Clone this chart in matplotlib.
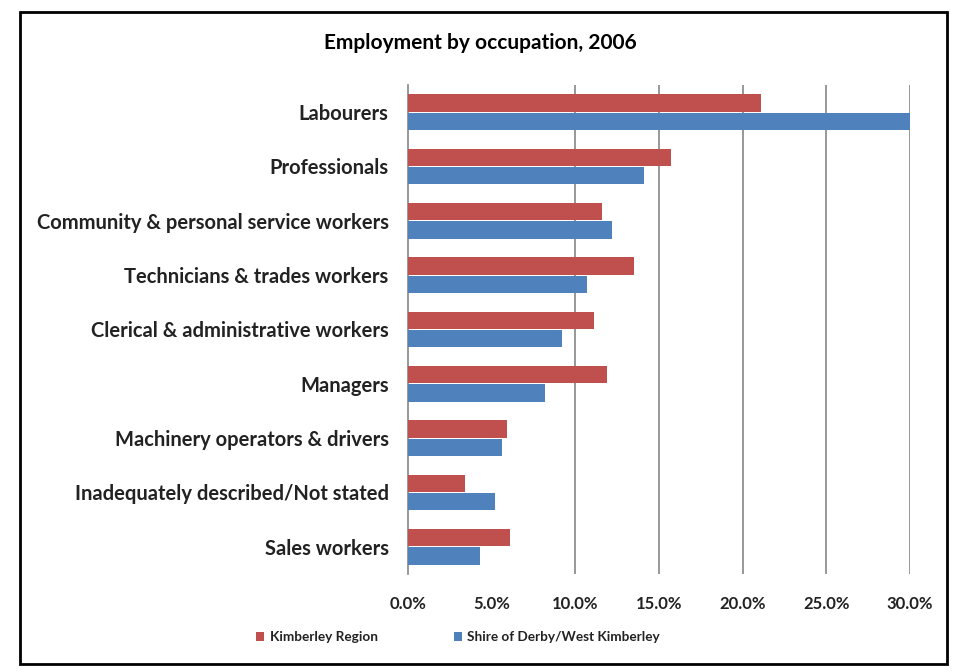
import matplotlib.pyplot as plt
import numpy as np

occupations = [
    "Labourers",
    "Professionals",
    "Community & personal service workers",
    "Technicians & trades workers",
    "Clerical & administrative workers",
    "Managers",
    "Machinery operators & drivers",
    "Inadequately described/Not stated",
    "Sales workers",
]
kimberley = [21.1, 15.7, 11.6, 13.5, 11.1, 11.9, 5.9, 3.4, 6.1]
derby = [30.0, 14.1, 12.2, 10.7, 9.2, 8.2, 5.6, 5.2, 4.3]
xticks = [0, 5, 10, 15, 20, 25, 30]

plt.rcParams['font.family'] = ['Lato', 'DejaVu Sans']

fig = plt.figure(figsize=(9.64, 6.72), dpi=100)
ax = fig.add_axes([408 / 964, 1 - 574 / 672, (910 - 408) / 964, (574 - 85) / 672])

y = np.arange(len(occupations))
h = 0.32
ax.barh(y - 0.17, kimberley, height=h, color="#C0504D", label="Kimberley Region", zorder=3)
ax.barh(y + 0.17, derby, height=h, color="#4F81BD", label="Shire of Derby/West Kimberley", zorder=3)

ax.set_ylim(len(occupations) - 0.5, -0.5)
ax.set_xlim(0, 30)
ax.set_yticks(y)
ax.set_yticklabels(occupations, fontsize=14.5, fontweight="bold", color="#222222")
ax.set_xticks(xticks)
ax.set_xticklabels(["%.1f%%" % v for v in xticks], fontsize=12, fontweight="bold",
                   color="#222222")
ax.tick_params(length=0)
ax.tick_params(axis='y', pad=14)
ax.tick_params(axis='x', pad=16)

# vertical gridlines
for v in xticks[2:]:
    ax.axvline(v, color="#868686", lw=1.2, zorder=1)

for s in ["top", "right", "bottom"]:
    ax.spines[s].set_visible(False)
ax.spines["left"].set_color("#868686")
ax.spines["left"].set_linewidth(1.2)

fig.text(0.498, 1 - 43 / 672, "Employment by occupation, 2006", ha="center", va="center",
         fontsize=15, fontweight="bold")

leg = fig.legend(loc="center", bbox_to_anchor=(458 / 964, 1 - 637 / 672), ncol=2, frameon=False,
                 prop={"size": 9.8, "weight": "bold"}, handlelength=0.6, handleheight=0.6,
                 columnspacing=5.6, handletextpad=0.4)
for t in leg.get_texts():
    t.set_color("#222222")

# outer chart frame
fig.add_artist(plt.Rectangle((20 / 964, 1 - 664 / 672), (947 - 20) / 964, (664 - 12) / 672,
                             transform=fig.transFigure, fill=False, edgecolor="black", lw=2))

fig.savefig("out.png", dpi=100)
